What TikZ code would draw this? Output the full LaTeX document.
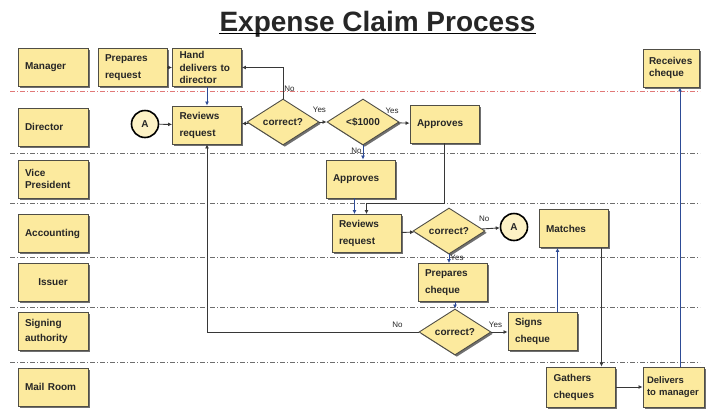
\documentclass[tikz,border=0pt]{standalone}
\usepackage{fontspec}
\setmainfont{Liberation Sans}
\usetikzlibrary{arrows.meta,positioning,shapes.geometric,shadows}
\definecolor{boxfill}{RGB}{252,234,158}
\definecolor{boxline}{RGB}{80,78,70}
\definecolor{flow}{RGB}{55,55,55}
\definecolor{bflow}{RGB}{45,75,150}
\definecolor{redsep}{RGB}{225,120,120}
\definecolor{graysep}{RGB}{110,110,110}

\begin{document}
\begin{tikzpicture}[x=1pt,y=-1pt, every node/.style={font=\fontsize{10}{17}\selectfont\bfseries,text=black!85},
  box/.style={draw=boxline,fill=boxfill,line width=0.9pt,align=left,inner xsep=7pt,minimum height=38pt,
  drop shadow={shadow xshift=1.8pt,shadow yshift=-1.8pt,fill=black!70,opacity=0.8}},
  lane/.style={box,text width=56pt}, act/.style={box,text width=55pt},
  tight/.style={font=\fontsize{10}{12.5}\selectfont\bfseries,inner ysep=2pt},
  dec/.style={diamond,draw=boxline,fill=boxfill,line width=0.9pt,aspect=1.6,inner sep=0pt,
  minimum width=72pt,minimum height=46pt,drop shadow={shadow xshift=1.8pt,shadow yshift=-1.8pt,fill=black!70,opacity=0.8}},
  conn/.style={circle,draw=black,fill=boxfill!60,line width=1.6pt,minimum size=27pt,inner sep=0pt},
  edge/.style={-{Latex[length=4pt,width=4pt]},draw=flow,line width=0.9pt},
  bedge/.style={edge,draw=bflow},
  lab/.style={font=\fontsize{8}{9}\selectfont,inner sep=1pt},
  sep/.style={dash pattern=on 5pt off 2pt on 1pt off 2pt,line width=0.7pt}]
  \useasboundingbox (0,0) rectangle (707,413);
  \foreach \y/\c in {91/redsep,153/graysep,203/graysep,257/graysep,307/graysep,362/graysep}
    \draw[sep,draw=\c] (10,\y) -- (700,\y);
  \node[font=\fontsize{28}{30}\selectfont\bfseries,inner xsep=0pt,anchor=base] (title) at (377.5,31) {Expense Claim Process};
  \draw[line width=1.8pt] ([yshift=-2.5pt]title.base west) -- ([yshift=-2.5pt]title.base east);
  \node[lane] (mgr) at (53,67) {Manager}; \node[lane] (dir) at (53,127) {Director};
  \node[lane,tight,minimum height=38pt] (vp) at (53,179) {Vice\\President};
  \node[lane] (acc) at (53,233.5) {Accounting}; \node[lane,align=center] (iss) at (53,282) {Issuer};
  \node[lane,font=\fontsize{10}{15}\selectfont\bfseries] (sign) at (53,331) {Signing\\authority};
  \node[lane] (mail) at (53,387) {Mail Room};
  \node[act] (prep) at (132.5,67.5) {Prepares\\request};
  \node[act,tight] (hand) at (207,67.5) {Hand\\delivers to\\director};
  \node[act] (revD) at (207,125) {Reviews\\request}; \node[conn] (a1) at (145,124) {A};
  \node[dec] (corD) at (283,122) {correct?}; \node[dec] (lim) at (363,122) {<\$1000};
  \node[act] (appD) at (444.5,124) {Approves};
  \node[act,tight,text width=44pt,inner xsep=6pt] (recv) at (671,68) {Receives\\cheque};
  \node[act] (appV) at (360.5,179) {Approves}; \node[act] (revA) at (366.5,233.5) {Reviews\\request};
  \node[dec] (corA) at (449,231) {correct?}; \node[conn] (a2) at (514,227) {A};
  \node[act] (match) at (573.5,228.5) {Matches}; \node[act] (prepC) at (452.5,282.5) {Prepares\\cheque};
  \node[dec] (corS) at (455,332) {correct?}; \node[act] (signs) at (542.5,331) {Signs\\cheque};
  \node[act,minimum height=40pt] (gath) at (581,387) {Gathers\\cheques};
  \node[act,tight,font=\fontsize{9.5}{12.5}\selectfont\bfseries,inner xsep=4pt,text width=53pt,minimum height=40pt]
    (deliv) at (673.5,387) {Delivers\\to manager};
  \draw[edge] (prep) -- (hand); \draw[bedge] (hand) -- (revD); \draw[edge] (a1) -- (revD);
  \draw[edge] (corD) -- (revD);
  \draw[edge] (corD.north) |- node[lab,right,pos=0.15] {No} (hand.east);
  \draw[edge] (corD) -- node[lab,pos=0,above=8pt] {Yes} (lim);
  \draw[edge] (lim) -- node[lab,pos=0,above=8pt,xshift=-6pt] {Yes} (appD);
  \draw[bedge] (lim) -- node[lab,left,pos=0.4] {No} (lim.south |- appV.north);
  \draw[edge] (appD.south) -- ++(0,60) -| (revA.north);
  \draw[bedge] ([xshift=-6pt]appV.south) -- ([xshift=-6pt]appV.south |- revA.north);
  \draw[edge] (revA) -- (corA);
  \draw[edge] (corA) -- node[lab,pos=0,above=6pt,xshift=2pt] {No} (a2);
  \draw[bedge] (corA.south) -- node[lab,right,pos=0.4] {Yes} (corA.south |- prepC.north);
  \draw[bedge] (corS.north |- prepC.south) -- (corS.north);
  \draw[edge] (corS.east) -- node[lab,pos=0.25,above=3pt] {Yes} (corS.east -| signs.west);
  \draw[edge] (corS.west) -| node[lab,above=3pt,pos=0.05] {No} (revD.south);
  \draw[bedge] ([xshift=15pt]signs.north) -- ([xshift=15pt]signs.north |- match.south);
  \draw[edge] ([xshift=28pt]match.south) -- ([xshift=28pt]match.south |- gath.north);
  \draw[edge] (gath) -- (deliv);
  \draw[bedge] ([xshift=6.5pt]deliv.north) -- ([xshift=6.5pt]deliv.north |- recv.south);
\end{tikzpicture}
\end{document}
